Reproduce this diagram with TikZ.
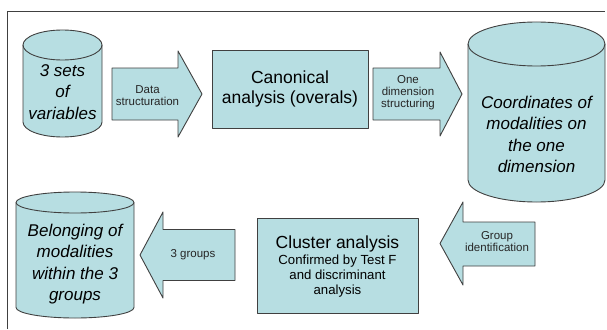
\documentclass[tikz,border=0pt]{standalone}
\usepackage{fontspec}
\setmainfont{Liberation Sans}
\definecolor{boxfill}{RGB}{183,222,226}
\definecolor{edgegray}{RGB}{64,64,64}
\tikzset{
  shapestyle/.style={fill=boxfill, draw=edgegray, line width=0.9pt, line join=round},
  cyltext/.style={align=center, inner sep=0pt, font=\fontsize{17}{21.3}\selectfont\itshape},
  procbox/.style={shapestyle, align=center, inner sep=0pt},
  arrowtext/.style={align=center, inner sep=0pt, text=black!85, font=\fontsize{11.5}{12.3}\selectfont},
  framestyle/.style={draw=edgegray, line width=0.9pt}
}
\newcommand{\drawcyl}[5]{% L, R, T, B, ry
  \pgfmathsetmacro\cylrx{(#2-#1)/2}
  \draw[shapestyle] (#1,#3+#5) -- (#1,#4-#5)
     arc[start angle=180, end angle=360, x radius=\cylrx pt, y radius=#5pt]
     -- (#2,#3+#5)
     arc[start angle=0, end angle=180, x radius=\cylrx pt, y radius=#5pt] -- cycle;
  \draw[shapestyle, fill=none] (#1,#3+#5)
     arc[start angle=180, end angle=360, x radius=\cylrx pt, y radius=#5pt];
}
\begin{document}
\begin{tikzpicture}[x=1pt,y=-1pt]
\useasboundingbox (0,0) rectangle (607,329);
\fill[white] (0,0) rectangle (607,329);

% frame
\coordinate (frameBL) at (7,329);
\coordinate (frameTL) at (7,11);
\coordinate (frameTR) at (605,11);
\draw[framestyle] (frameBL) -- (frameTL) -- (frameTR);

% cylinders
\drawcyl{23}{102}{30}{137}{15}
\node[cyltext] (vars) at (62.5,92) {3 sets\\of\\variables};

\drawcyl{468}{605}{22}{202}{22}
\node[cyltext] (coords) at (536.5,134.5) {Coordinates of\\modalities on\\the one\\dimension};

\drawcyl{16}{134}{192}{318}{10.5}
\node[cyltext] (belong) at (75,264) {Belonging of\\modalities\\within the 3\\groups};

% process boxes
\node[procbox, minimum width=156pt, minimum height=78pt,
      font=\fontsize{17.5}{20}\selectfont] (canon) at (290,89)
      {Canonical\\analysis (overals)};

\node[procbox, minimum width=161pt, minimum height=95pt] (cluster) at (337.5,265.5) {};
\node[align=center, inner sep=0pt, font=\fontsize{13.2}{15}\selectfont]
      (clustertext) at (337.5,267)
      {{\fontsize{17.5}{19}\selectfont Cluster analysis}\\[1pt]
       Confirmed by Test F\\and discriminant\\analysis};

% block arrows
\draw[shapestyle] (112,68) -- (178,68) -- (178,51) -- (202,94) -- (178,137)
   -- (178,120) -- (112,120) -- cycle;
\node[arrowtext] (a1) at (147.5,95.5) {Data\\structuration};

\draw[shapestyle] (373,68) -- (440,68) -- (440,52) -- (462,94) -- (440,136)
   -- (440,120) -- (373,120) -- cycle;
\node[arrowtext] (a2) at (408,92.5) {One\\dimension\\structuring};

\draw[shapestyle] (235,229.5) -- (163,229.5) -- (163,212) -- (140,255) -- (163,298)
   -- (163,280.5) -- (235,280.5) -- cycle;
\node[arrowtext] (a3) at (193,255) {3 groups};

\draw[shapestyle] (535,222) -- (463,222) -- (463,202) -- (440,243.5) -- (463,285)
   -- (463,266) -- (535,266) -- cycle;
\node[arrowtext] (a4) at (497,241.5) {Group\\identification};
\end{tikzpicture}
\end{document}
